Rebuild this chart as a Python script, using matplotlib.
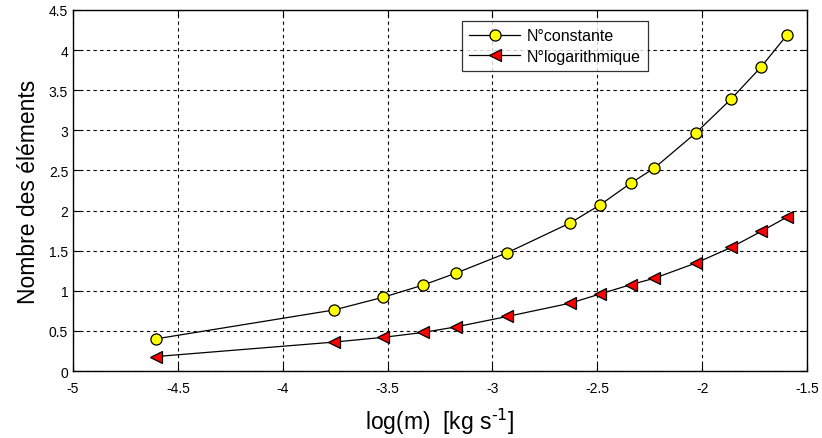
import matplotlib.pyplot as plt

# data
log_m = [-4.606, -3.757, -3.52, -3.332, -3.174, -2.929, -2.63, -2.487,
         -2.341, -2.228, -2.029, -1.862, -1.719, -1.595]
n_constante = [0.40, 0.76, 0.92, 1.07, 1.22, 1.475, 1.845, 2.07,
               2.34, 2.53, 2.97, 3.39, 3.79, 4.19]
n_logarithmique = [0.18, 0.36, 0.42, 0.48, 0.55, 0.68, 0.845, 0.96,
                   1.076, 1.156, 1.347, 1.54, 1.74, 1.92]

xticks = [-5, -4.5, -4, -3.5, -3, -2.5, -2, -1.5]
yticks = [0, 0.5, 1, 1.5, 2, 2.5, 3, 3.5, 4, 4.5]

plt.rcParams['font.family'] = ['Liberation Sans', 'DejaVu Sans']
plt.rcParams['axes.unicode_minus'] = False

fig = plt.figure(figsize=(8.22, 4.39), dpi=100)
ax = fig.add_axes([0.0888, 0.1526, 0.893, 0.8224])

ax.plot(log_m, n_constante, '-o', color='black', lw=0.9,
        markerfacecolor='yellow', markeredgecolor='black', markersize=8,
        markeredgewidth=0.9, label='N°constante')
ax.plot(log_m, n_logarithmique, '-<', color='black', lw=0.9,
        markerfacecolor='red', markeredgecolor='black', markersize=9,
        markeredgewidth=0.9, label='N°logarithmique')

ax.set_xlim(-5, -1.5)
ax.set_ylim(0, 4.5)
ax.set_xticks(xticks)
ax.set_xticklabels([f'{t:g}' for t in xticks])
ax.set_yticks(yticks)
ax.set_yticklabels([f'{t:g}' for t in yticks])
ax.tick_params(direction='in', top=True, right=True, labelsize=10, length=5)
ax.tick_params(axis='x', pad=7)

ax.grid(True, color='black', linestyle=(0, (3, 3)), linewidth=0.8)
ax.set_axisbelow(True)
for s in ax.spines.values():
    s.set_linewidth(1.0)

ax.set_xlabel(r'log(m)  [kg s$^{\text{-1}}$]', fontsize=16.5, labelpad=8)
ax.set_ylabel('Nombre des éléments', fontsize=16.5, labelpad=6)

leg = ax.legend(loc='upper left', bbox_to_anchor=(0.53, 0.9695), fontsize=11.5,
                frameon=True, fancybox=False, edgecolor='black',
                handlelength=3.2, handletextpad=0.4, borderpad=0.45,
                labelspacing=0.35, borderaxespad=0)
leg.get_frame().set_linewidth(0.9)

fig.savefig('out.png', dpi=100)
